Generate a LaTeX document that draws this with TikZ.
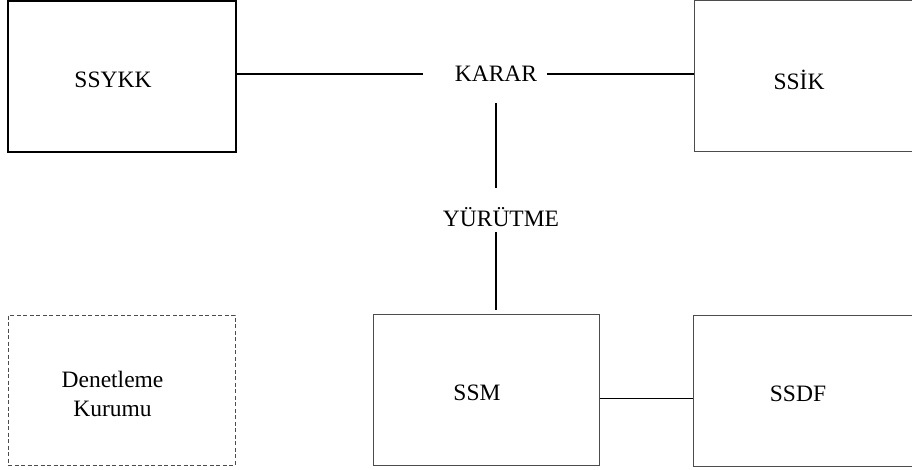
\documentclass[tikz,border=0pt]{standalone}
\usepackage{fontspec}
\setmainfont{Liberation Serif}
\tikzset{
  box/.style={draw=black!70, line width=1pt, minimum width=228pt, minimum height=151pt, inner sep=0pt},
  boxtext/.style={label={[lbl, align=center, shift={(-9,3.5)}]center:#1}},
  lbl/.style={inner sep=0pt},
  conn/.style={draw=black, line width=1.3pt}
}
\begin{document}
\begin{tikzpicture}[x=1pt, y=-1pt, font=\fontsize{23.5}{29}\selectfont]
\useasboundingbox (0,0) rectangle (912,470);
\node[box, draw=black, line width=2pt, boxtext=SSYKK] (ssykk) at (122,76.5) {};
\node[box, boxtext=SSİK] (ssik) at (808,76.5) {};
\node[box, dashed, dash pattern=on 4pt off 2.5pt, minimum width=227pt, minimum height=150pt, boxtext={Denetleme\\Kurumu}] (denetim) at (121.5,390) {};
\node[box, minimum width=226pt, boxtext=SSM] (ssm) at (486,389.5) {};
\node[box, boxtext=SSDF] (ssdf) at (807,390.5) {};
\node[lbl] (karar) at (496,74) {KARAR};
\node[lbl] (yurutme) at (501,217.5) {YÜRÜTME};
\draw[conn, shorten >=32pt] (karar.west -| ssykk.east) -- (karar.west);
\draw[conn, shorten <=10pt] (karar.east) -- (karar.east -| ssik.west);
\draw[conn, shorten <=21pt, shorten >=20pt] (karar.south) -- (karar.south |- yurutme.north);
\draw[conn, shorten <=5pt, shorten >=4pt] (karar.south |- yurutme.south) -- (karar.south |- ssm.north);
\draw[conn] ([yshift=-9pt]ssm.east) -- ([yshift=-9pt]ssm.east -| ssdf.west);
\end{tikzpicture}
\end{document}
